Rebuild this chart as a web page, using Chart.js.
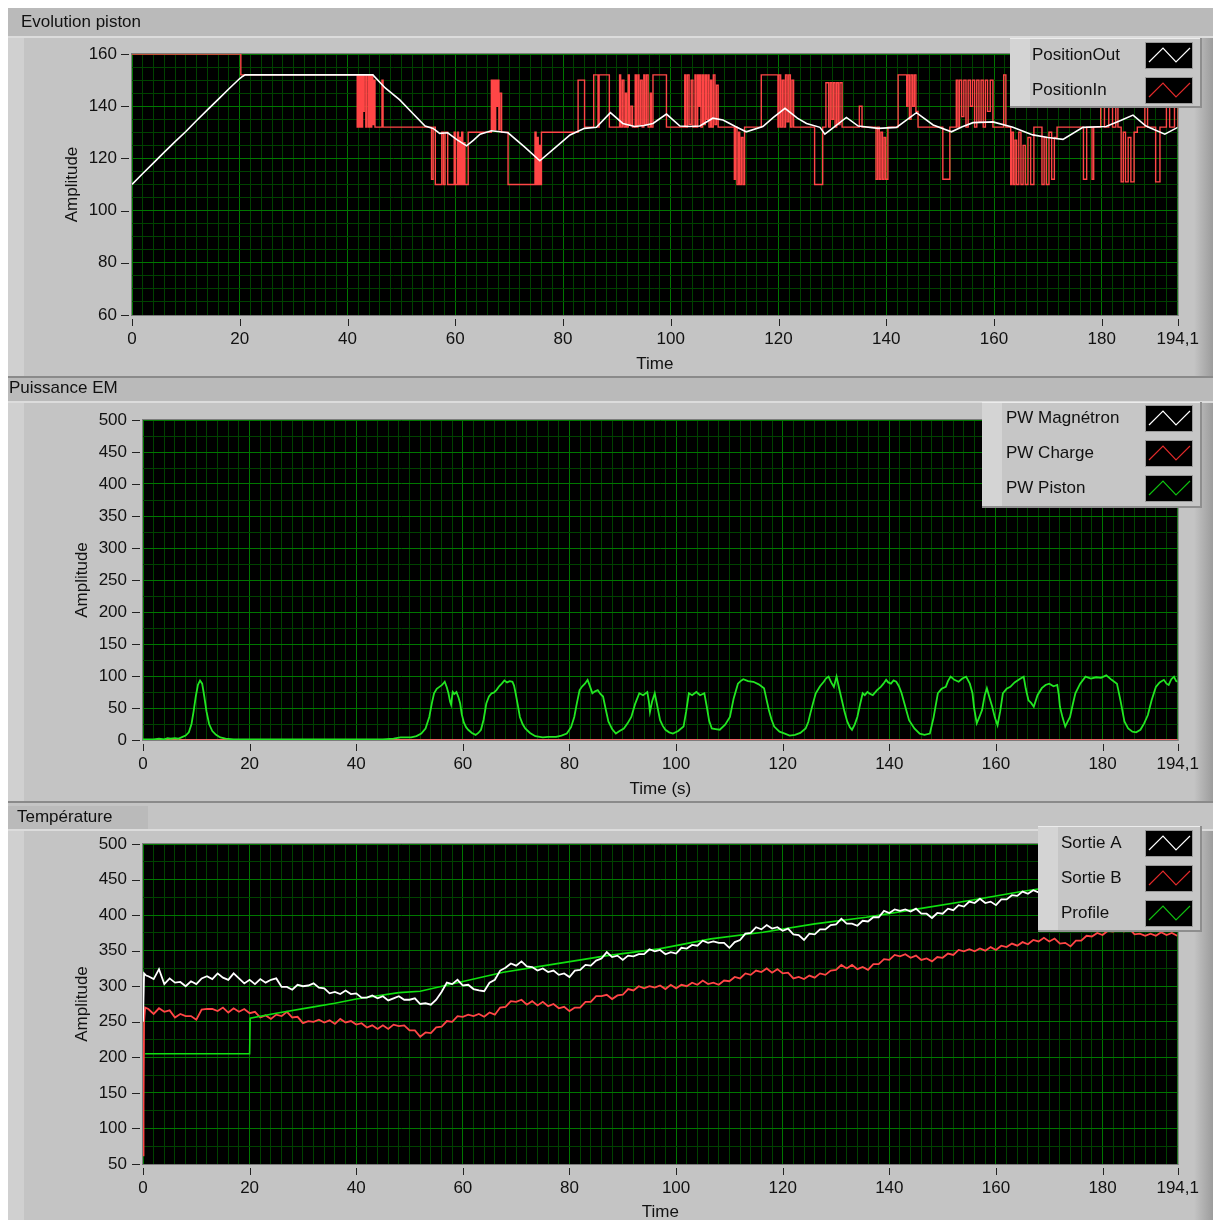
<!DOCTYPE html>
<html>
<head>
<meta charset="utf-8">
<title>Evolution piston - Puissance EM - Température</title>
<script src="https://cdn.jsdelivr.net/npm/chart.js@4.4.1/dist/chart.umd.min.js"></script>
<style>
  html, body { margin: 0; padding: 0; background: #fff; }
  body { width: 1213px; height: 1220px; position: relative; overflow: hidden; }
  canvas { position: absolute; left: 0; }
  #pistonChart { top: 0; width: 1213px; height: 378px; }
  #powerChart { top: 378px; width: 1213px; height: 425px; }
  #tempChart { top: 803px; width: 1213px; height: 417px; }
</style>
</head>
<body>
<canvas id="pistonChart" width="1213" height="378"></canvas>
<canvas id="powerChart" width="1213" height="425"></canvas>
<canvas id="tempChart" width="1213" height="417"></canvas>
<script>
// ---- data ----
const timeMax = 194.1;
const timeTicks = [0, 20, 40, 60, 80, 100, 120, 140, 160, 180, 194.1];
const pistonTicks = [60, 80, 100, 120, 140, 160];
const powerTicks = [0, 50, 100, 150, 200, 250, 300, 350, 400, 450, 500];
const tempTicks = [50, 100, 150, 200, 250, 300, 350, 400, 450, 500];

const pistonNames = ['PositionOut', 'PositionIn'];
const powerNames = ['PW Magnétron', 'PW Charge', 'PW Piston'];
const tempNames = ['Sortie A', 'Sortie B', 'Profile'];

// [time, position]
const positionOut = [
  [0, 110], [2, 114.2], [4, 118.3], [6, 122.4], [8, 126.4], [10, 130.3], [12, 134.5], [14, 138.6], [16, 142.6], [18, 146.7],
  [20, 150.6], [20.5, 151.4], [21, 152], [30, 152], [40, 152], [44.7, 152], [47, 147], [49.7, 142.4], [52, 137.5], [54.4, 132.4],
  [55.9, 131.5], [57.1, 129.6], [58.6, 129.8], [60.3, 127.2], [62.1, 124.8], [63.4, 127], [64.6, 129.3], [66.7, 130.6], [69.8, 129.8], [72.8, 124.5],
  [75.7, 119.1], [78.5, 124], [81.3, 129], [84, 131.5], [86.2, 131.9], [88.8, 137.5], [91.1, 133.4], [93.3, 132.2], [95, 132.6], [96.7, 133.4],
  [99.2, 137], [101.7, 132.4], [103.5, 132.2], [105.4, 132.4], [107.8, 135.4], [109.7, 134.7], [112, 132.2], [114, 130.2], [117.1, 132.2], [119, 135.6],
  [121.2, 139.2], [123.5, 135.4], [125.2, 133.4], [127.7, 131.9], [128.6, 129.3], [130.6, 132.5], [132.6, 135.7], [134.8, 132.4], [138.5, 131.5], [141.9, 131.9],
  [143.8, 134.8], [145.6, 137.5], [148.7, 132.8], [152.1, 130.2], [154, 132], [156.1, 133.7], [159.8, 134], [163.5, 131.9], [167.2, 129], [170, 128],
  [172.8, 127.3], [176.5, 131.9], [180.8, 132.2], [183.5, 134.5], [185.8, 136.6], [188.2, 132.4], [191.7, 129.3], [194.1, 131.9]
];

// [time, commanded position] - held until the next entry
const positionIn = [
  [0, 160], [20.2, 152],
  [41.8, 132], [42.0, 152], [42.2, 132], [42.4, 152], [42.6, 132], [42.8, 152], [43.0, 138], [43.1, 152], [43.4, 132], [43.6, 152], [43.9, 132], [44.1, 152], [44.3, 132], [44.5, 152], [44.7, 133], [44.9, 150], [45.1, 132], [46.4, 150], [46.6, 132],
  [55.6, 112], [55.9, 132], [56.3, 110], [57.5, 130], [57.8, 110], [58.1, 130], [58.6, 110], [59.8, 130], [60.0, 110], [60.4, 130], [60.6, 110], [60.8, 128], [61.0, 110], [61.2, 130], [61.4, 110], [61.6, 126], [61.8, 110], [62.4, 130],
  [66.7, 150], [66.9, 131], [67.1, 150], [67.3, 131], [67.5, 150], [67.7, 140], [67.9, 150], [68.1, 131], [68.3, 145], [68.6, 130],
  [69.8, 110], [74.8, 130], [75.0, 110], [75.2, 128], [75.4, 110], [75.6, 125], [75.8, 110], [76.0, 130],
  [82.8, 150], [84.0, 132], [85.7, 152], [86.5, 132], [86.7, 152], [88.6, 132],
  [90.5, 152], [90.7, 132], [91.0, 150], [91.3, 132], [91.6, 145], [91.8, 132], [92.1, 152], [92.3, 133], [92.6, 140], [92.9, 132], [93.4, 152], [93.6, 132], [93.9, 152], [94.1, 133], [94.4, 150], [94.7, 132], [95.0, 152], [95.2, 133], [95.5, 152], [95.8, 132], [96.2, 145], [96.4, 132],
  [96.7, 152], [99.2, 132],
  [102.6, 152], [102.8, 132], [103.1, 152], [103.4, 133], [103.8, 150], [104.1, 132], [104.5, 152], [104.7, 132], [105.0, 152], [105.2, 140], [105.4, 152], [105.6, 132], [105.9, 152], [106.1, 133], [106.4, 152], [106.6, 135], [106.9, 152], [107.1, 132], [107.4, 150], [107.6, 132], [107.9, 152], [108.2, 133], [108.5, 148], [108.8, 132],
  [111.8, 112], [112.0, 132], [112.3, 110], [112.6, 130], [112.8, 110], [113.1, 128], [113.4, 110], [113.7, 132],
  [116.8, 152], [119.9, 132], [120.1, 152], [120.4, 132], [120.7, 150], [121.0, 132], [121.3, 152], [121.6, 134], [121.9, 152], [122.2, 132], [122.5, 150], [122.8, 132],
  [126.7, 110], [128.2, 132], [128.8, 149], [129.3, 132], [129.6, 149], [129.9, 135], [130.2, 149], [130.5, 132], [130.8, 149], [131.1, 133], [131.4, 149], [131.8, 132],
  [135.0, 140], [135.5, 132],
  [138.1, 112], [138.4, 132], [138.7, 112], [139.0, 130], [139.3, 112], [139.6, 128], [139.9, 112], [140.3, 132],
  [142.2, 152], [143.8, 140], [144.0, 152], [144.3, 135], [144.6, 152], [144.9, 140], [145.2, 152], [145.5, 138], [145.9, 132],
  [150.5, 112], [151.8, 132],
  [153.0, 150], [153.3, 132], [153.6, 150], [154.0, 136], [154.4, 150], [154.8, 132], [155.2, 150], [155.6, 140], [156.0, 150], [156.4, 132], [156.8, 150], [157.2, 134], [157.6, 150], [158.0, 132], [158.4, 150], [158.8, 138], [159.3, 150], [159.8, 132],
  [161.8, 152], [162.2, 132],
  [163.1, 110], [163.3, 130], [163.6, 110], [163.9, 127], [164.2, 110], [164.6, 130], [165.0, 110], [165.4, 125], [165.8, 110], [166.3, 128], [166.8, 110], [167.4, 132],
  [168.9, 110], [169.3, 128], [169.7, 110], [170.2, 130], [170.7, 112], [171.2, 128], [171.7, 132],
  [176.6, 112], [177.2, 132], [178.2, 112], [178.5, 132],
  [179.8, 140], [180.5, 132], [181.3, 142], [182.0, 132], [182.6, 145], [183.0, 132],
  [183.6, 111], [184.0, 130], [184.4, 111], [184.9, 128], [185.4, 111], [186.0, 130], [186.6, 132],
  [188.0, 140], [188.5, 132], [190.0, 111], [190.8, 132], [192.0, 140], [192.6, 132], [193.5, 145], [194.1, 132]
];

// [time, W]
const pwMagnetron = [[0, 0], [194.1, 0]];
const pwCharge = [[0, 0], [194.1, 0]];
const pwPiston = [
  [0, 1], [2, 1], [3, 2], [4, 1], [4.6, 3], [5.2, 2], [6, 3], [6.6, 2], [7.2, 4], [8, 7], [8.6, 12], [9.1, 25], [9.5, 45], [9.9, 68], [10.3, 86], [10.7, 93], [11.1, 88], [11.5, 68], [11.9, 45], [12.4, 25], [13, 14], [13.7, 8], [14.5, 4], [15.5, 2], [17, 1], [25, 1], [35, 1], [45, 1], [47, 2],
  [48.3, 4], [50.3, 4], [51.3, 6], [52.2, 10], [53, 18], [53.7, 36], [54.2, 58], [54.6, 73], [55.1, 80], [55.6, 83], [56.1, 86], [56.6, 91], [57, 82], [57.3, 73], [57.6, 60], [57.8, 55], [58.1, 75], [58.4, 72], [58.8, 75], [59.2, 66], [59.5, 57], [59.8, 40], [60.2, 27], [60.6, 20], [61, 16], [61.7, 11], [62.4, 8],
  [62.9, 11], [63.4, 16], [63.9, 32], [64.4, 57], [64.9, 68], [65.4, 73], [65.8, 74], [66.3, 78], [66.8, 84], [67.3, 88], [67.8, 93], [68.3, 90], [68.8, 92], [69.3, 91], [69.6, 85], [69.9, 73], [70.3, 55], [70.7, 36], [71.2, 25], [71.7, 18], [72.6, 11], [73.6, 6], [75, 4], [76, 5], [77.5, 5],
  [78.5, 7], [79.5, 10], [80.3, 20], [80.9, 36], [81.4, 58], [81.9, 78], [82.4, 84], [82.9, 88], [83.4, 94], [83.8, 85], [84.3, 73], [84.8, 76], [85.3, 78], [85.8, 72], [86.3, 68], [86.8, 48], [87.3, 29], [88, 17], [88.7, 10],
  [89.4, 14], [90.2, 18], [90.9, 26], [91.6, 36], [92.3, 56], [93.1, 73], [93.8, 70], [94.6, 75], [94.9, 60], [95.1, 44], [95.5, 60], [96, 73], [96.5, 52], [97, 31], [97.5, 22], [98, 16], [98.7, 12], [99.4, 10],
  [100.4, 14], [101.4, 21], [101.9, 45], [102.4, 73], [103, 70], [103.8, 75], [104.5, 70], [105.3, 73], [105.8, 50], [106.2, 30], [106.7, 18], [107.4, 17], [108.2, 16],
  [109.2, 24], [110.1, 36], [110.8, 65], [111.6, 88], [112.1, 92], [112.6, 95], [113.5, 92], [114.5, 91], [115.5, 87], [116.5, 81], [117, 62], [117.4, 47], [117.9, 32], [118.4, 21], [119.4, 13], [120.4, 10], [121.3, 7], [122.3, 8],
  [123.3, 11], [124.3, 18], [124.8, 28], [125.2, 42], [125.7, 58], [126.2, 73], [127, 84], [127.7, 91], [128.1, 96], [128.6, 99], [129.1, 90], [129.6, 83], [130.1, 99], [130.6, 80], [131.1, 62], [131.6, 44], [132.1, 29], [132.6, 20], [133, 16],
  [133.5, 24], [134, 36], [134.5, 55], [135, 73], [135.4, 70], [135.9, 75], [136.4, 72], [136.9, 70], [137.7, 78], [138.4, 83], [138.9, 88], [139.4, 94], [139.8, 90], [140.3, 88], [140.8, 93], [141.3, 91], [141.8, 84], [142.3, 73], [143, 52], [143.7, 31], [144.7, 18], [145.7, 10], [146.6, 8], [147.6, 10],
  [148.3, 35], [149.1, 73], [149.8, 80], [150.6, 83], [151, 92], [151.5, 99], [152.2, 94], [153, 91], [153.7, 96], [154.4, 99], [155.1, 88], [155.6, 73], [155.9, 50], [156.4, 26], [156.9, 36], [157.4, 47], [157.9, 70], [158.3, 81], [158.8, 66], [159.3, 52], [159.8, 35], [160.3, 23],
  [160.8, 45], [161.3, 73], [162, 80], [162.7, 83], [163.5, 90], [164.4, 95], [165.2, 99], [165.6, 80], [166.1, 62], [166.6, 58], [167.1, 52], [167.8, 70], [168.6, 81], [169.3, 86], [170, 88], [170.8, 84], [171.5, 86], [171.8, 70], [172, 52], [172.5, 35], [173, 21],
  [173.4, 28], [173.9, 36], [174.4, 55], [174.9, 73], [175.8, 88], [176.8, 99], [177.8, 96], [178.8, 98], [179.7, 97], [180.7, 101], [181.7, 94], [182.7, 88], [183.4, 60], [184.1, 29], [184.8, 18], [185.6, 13], [186.3, 12], [187.1, 16], [187.8, 26],
  [188.5, 39], [189.2, 62], [190, 83], [190.7, 90], [191.5, 94], [192, 88], [192.4, 86], [192.9, 95], [193.4, 99], [193.8, 92], [194.1, 91]
];

// temperatures: start transient [time, °C], then one reading per second from t = 1 s
const sortieAStart = [[0, 250], [0.2, 318], [0.6, 315]];
const sortieA = [
  314, 310, 324, 303, 311, 305, 306, 300, 307, 303,
  311, 314, 310, 318, 312, 309, 318, 311, 304, 309,
  303, 310, 305, 309, 311, 299, 299, 295, 302, 300,
  301, 304, 298, 297, 290, 292, 289, 294, 289, 290,
  284, 284, 287, 283, 286, 280, 283, 286, 281, 281,
  283, 275, 276, 274, 281, 292, 305, 303, 309, 301,
  302, 296, 294, 293, 305, 309, 322, 326, 332, 329,
  335, 328, 327, 322, 325, 320, 322, 316, 318, 313,
  322, 323, 330, 329, 336, 339, 348, 341, 343, 337,
  343, 342, 345, 345, 352, 349, 351, 345, 348, 346,
  354, 353, 358, 357, 364, 361, 363, 361, 361, 354,
  362, 365, 374, 375, 383, 380, 386, 381, 383, 378,
  381, 373, 372, 365, 374, 373, 380, 380, 386, 387,
  395, 388, 388, 385, 392, 391, 397, 397, 406, 403,
  408, 406, 408, 405, 409, 402, 402, 396, 403, 402,
  409, 407, 414, 412, 419, 417, 423, 417, 419, 414,
  422, 422, 428, 427, 433, 430, 435, 432, 438, 434,
  439, 436, 441, 438, 442, 439, 444, 440, 445, 441,
  446, 442, 447, 444, 448, 445, 449, 446, 450, 447,
  451, 448, 452, 450
];
const sortieBStart = [[0, 62], [0.1, 130], [0.2, 250], [0.4, 270]];
const sortieB = [
  268, 261, 269, 264, 266, 256, 261, 258, 258, 253,
  267, 268, 268, 265, 270, 263, 269, 264, 268, 262,
  264, 256, 259, 254, 260, 258, 264, 256, 257, 248,
  251, 250, 253, 249, 252, 247, 254, 249, 251, 246,
  248, 242, 245, 240, 245, 240, 246, 244, 245, 238,
  238, 229, 235, 234, 242, 243, 251, 250, 258, 257,
  260, 258, 261, 257, 263, 260, 270, 271, 279, 278,
  281, 274, 279, 273, 278, 272, 275, 269, 271, 265,
  270, 270, 278, 278, 286, 286, 288, 282, 287, 288,
  296, 294, 300, 297, 300, 298, 301, 296, 302, 297,
  302, 300, 305, 302, 308, 303, 305, 302, 308, 307,
  313, 311, 318, 316, 322, 320, 325, 319, 324, 318,
  319, 311, 313, 310, 315, 312, 318, 316, 322, 323,
  330, 325, 330, 324, 327, 323, 331, 331, 338, 337,
  344, 342, 345, 340, 343, 337, 339, 335, 341, 340,
  346, 344, 351, 349, 352, 349, 353, 350, 355, 351,
  357, 355, 360, 357, 362, 359, 365, 363, 368, 363,
  367, 360, 361, 356, 364, 364, 371, 370, 375, 372,
  378, 377, 380, 377, 381, 373, 374, 371, 374, 371,
  376, 372, 375, 371
];
const profile = [
  [0.4, 205], [20, 205], [20.1, 255], [25, 262], [32, 271], [36, 276], [40, 282], [48, 291], [52, 293],
  [67.6, 319.6], [77.4, 331.4], [87.1, 343], [96.8, 352.5], [106.5, 366.6], [116.3, 376], [126, 387.7],
  [135.7, 397], [145.4, 408.8], [155.1, 420.5], [164.8, 433.2], [194.1, 466]
];

// ---- helpers ----
const FONT = { family: '"Liberation Sans", Arial, sans-serif', size: 17 };
const FONT_CSS = '17px "Liberation Sans", Arial, sans-serif';
const GRID_MAJOR = 'rgb(0,118,0)';
const GRID_MINOR = 'rgb(0,66,0)';
const WHITE = '#ffffff';
const RED = '#ff4646';
const GREEN = '#22e622';

function toPoints(pairs) {
  return pairs.map(p => ({ x: p[0], y: p[1] }));
}

function perSecond(start, values) {
  return toPoints(start).concat(values.map((v, i) => ({ x: i + 1, y: v })));
}

function gridValues(min, max, step, last) {
  const out = [];
  for (let v = min; v <= max + 1e-9; v += step) out.push(Math.round(v * 10) / 10);
  if (last !== undefined) out.push(last);
  return out;
}

const timeGrid = gridValues(0, 192, 2, timeMax);

// panel chrome: title bar, black plot area, tick dashes, axis titles, legend box
const labviewFrame = {
  id: 'labviewFrame',
  beforeDraw(chart, args, o) {
    const { ctx, width, height, chartArea: a } = chart;
    ctx.save();
    ctx.fillStyle = '#ffffff';
    ctx.fillRect(0, 0, width, height);
    ctx.fillStyle = '#c4c4c4';
    ctx.fillRect(8, o.top, width - 8, height - o.top);
    ctx.fillStyle = '#d0d0d0';
    ctx.fillRect(8, o.barBottom, 16, height - o.barBottom);
    const g = ctx.createLinearGradient(1194, 0, 1213, 0);
    g.addColorStop(0, '#c4c4c4');
    g.addColorStop(1, '#9c9c9c');
    ctx.fillStyle = g;
    ctx.fillRect(1194, o.barBottom, 19, height - o.barBottom);

    ctx.fillStyle = '#bababa';
    ctx.fillRect(o.barLeft, o.barTop, o.barRight - o.barLeft, o.barBottom - o.barTop);
    ctx.fillStyle = '#dcdcdc';
    ctx.fillRect(8, o.barBottom, width - 8, 2);
    ctx.fillStyle = '#111';
    ctx.font = FONT_CSS;
    ctx.textAlign = 'left';
    ctx.textBaseline = 'middle';
    ctx.fillText(o.title, o.titleX, o.titleY);

    ctx.fillStyle = '#000';
    ctx.fillRect(a.left, a.top, a.right - a.left, a.bottom - a.top);
    ctx.restore();
  },
  afterDraw(chart, args, o) {
    const { ctx, chartArea: a, scales } = chart;
    ctx.save();
    ctx.lineWidth = 1;
    ctx.strokeStyle = '#7c7c7c';
    ctx.strokeRect(a.left - 0.5, a.top - 0.5, a.right - a.left + 1, a.bottom - a.top + 1);

    ctx.strokeStyle = '#222';
    ctx.beginPath();
    o.yMajor.forEach(v => {
      const y = Math.round(scales.y.getPixelForValue(v)) + 0.5;
      ctx.moveTo(a.left - 11, y);
      ctx.lineTo(a.left - 3, y);
    });
    o.xMajor.forEach(v => {
      const x = Math.round(scales.x.getPixelForValue(v)) + 0.5;
      ctx.moveTo(x, a.bottom + 4);
      ctx.lineTo(x, a.bottom + 11);
    });
    ctx.stroke();

    ctx.fillStyle = '#111';
    ctx.font = FONT_CSS;
    ctx.textAlign = 'center';
    ctx.textBaseline = 'middle';
    ctx.fillText(o.xTitle, (a.left + a.right) / 2, o.xTitleY);
    ctx.save();
    ctx.translate(o.yTitleX, (a.top + a.bottom) / 2);
    ctx.rotate(-Math.PI / 2);
    ctx.fillText('Amplitude', 0, 0);
    ctx.restore();

    if (o.bottomLine) {
      ctx.fillStyle = '#8a8a8a';
      ctx.fillRect(8, o.bottomLine, chart.width - 8, 2);
    }

    // legend box
    const L = o.legend;
    ctx.fillStyle = '#c6c6c6';
    ctx.fillRect(L.x, L.y, L.w, L.h);
    ctx.fillStyle = '#d4d4d4';
    ctx.fillRect(L.x, L.y, 20, L.h);
    ctx.fillStyle = '#ececec';
    ctx.fillRect(L.x, L.y, L.w, 1);
    ctx.fillStyle = '#8e8e8e';
    ctx.fillRect(L.x, L.y + L.h, L.w + 2, 2);
    ctx.fillRect(L.x + L.w, L.y, 2, L.h + 2);
    L.names.forEach((name, i) => {
      const cy = L.firstY + i * 35;
      ctx.fillStyle = '#111';
      ctx.textAlign = 'left';
      ctx.fillText(name, L.textX, cy);
      const sx = 1146, sy = cy - 12;
      ctx.fillStyle = '#000';
      ctx.fillRect(sx, sy, 46, 25);
      ctx.strokeStyle = '#9a9a9a';
      ctx.lineWidth = 1;
      ctx.strokeRect(sx - 0.5, sy - 0.5, 47, 26);
      ctx.strokeStyle = L.colors[i];
      ctx.lineWidth = 1.2;
      ctx.beginPath();
      ctx.moveTo(sx + 3, sy + 19);
      ctx.lineTo(sx + 17, sy + 5);
      ctx.lineTo(sx + 30, sy + 19);
      ctx.lineTo(sx + 44, sy + 5);
      ctx.stroke();
    });
    ctx.restore();
  }
};

function panelChart(id, cfg) {
  const yGrid = gridValues(cfg.yMin, cfg.yMax, cfg.yMinor);
  return new Chart(document.getElementById(id), {
    type: 'line',
    data: { datasets: cfg.datasets },
    options: {
      responsive: false,
      animation: false,
      devicePixelRatio: 1,
      events: [],
      layout: { padding: { top: cfg.plotTop, right: 35, left: 0, bottom: 0 } },
      elements: { point: { radius: 0 }, line: { tension: 0, borderWidth: 1.5 } },
      plugins: {
        legend: { display: false },
        tooltip: { enabled: false },
        labviewFrame: cfg.frame
      },
      scales: {
        x: {
          type: 'linear',
          min: 0,
          max: timeMax,
          afterBuildTicks: s => { s.ticks = timeGrid.map(v => ({ value: v })); },
          afterFit: s => { s.height = cfg.xAxisHeight; },
          border: { display: false },
          grid: {
            drawTicks: false,
            color: c => timeTicks.includes(c.tick.value) ? GRID_MAJOR : GRID_MINOR
          },
          ticks: {
            autoSkip: false,
            maxRotation: 0,
            padding: 14,
            color: '#111',
            font: FONT,
            callback: v => timeTicks.includes(v) ? String(v).replace('.', ',') : ''
          }
        },
        y: {
          min: cfg.yMin,
          max: cfg.yMax,
          afterBuildTicks: s => { s.ticks = yGrid.map(v => ({ value: v })); },
          afterFit: s => { s.width = cfg.plotLeft; },
          border: { display: false },
          grid: {
            drawTicks: false,
            color: c => cfg.yTicks.includes(c.tick.value) ? GRID_MAJOR : GRID_MINOR
          },
          ticks: {
            autoSkip: false,
            padding: cfg.yPad,
            color: '#111',
            font: FONT,
            callback: v => cfg.yTicks.includes(v) ? String(v) : ''
          }
        }
      }
    },
    plugins: [labviewFrame]
  });
}

// ---- Evolution piston ----
panelChart('pistonChart', {
  plotTop: 54, plotLeft: 132, xAxisHeight: 63, yPad: 15,
  yMin: 60, yMax: 160, yMinor: 5, yTicks: pistonTicks,
  datasets: [
    { label: pistonNames[0], data: toPoints(positionOut), borderColor: WHITE, borderWidth: 1.6 },
    { label: pistonNames[1], data: toPoints(positionIn), borderColor: RED, borderWidth: 1.4, stepped: true }
  ],
  frame: {
    title: 'Evolution piston', titleX: 21, titleY: 22,
    top: 8, barTop: 8, barBottom: 36, barLeft: 8, barRight: 1213, bottomLine: 376,
    yTitleX: 72, xTitle: 'Time', xTitleY: 364,
    yMajor: pistonTicks, xMajor: timeTicks,
    legend: { x: 1010, y: 38, w: 190, h: 68, textX: 1032, firstY: 55, names: pistonNames, colors: [WHITE, '#e02a2a'] }
  }
});

// ---- Puissance EM ----
panelChart('powerChart', {
  plotTop: 42, plotLeft: 143, xAxisHeight: 63, yPad: 16,
  yMin: 0, yMax: 500, yMinor: 25, yTicks: powerTicks,
  datasets: [
    { label: powerNames[2], data: toPoints(pwPiston), borderColor: GREEN, borderWidth: 1.8 },
    { label: powerNames[1], data: toPoints(pwCharge), borderColor: RED, borderWidth: 1.5 },
    { label: powerNames[0], data: toPoints(pwMagnetron), borderColor: WHITE, borderWidth: 1.5 }
  ],
  frame: {
    title: 'Puissance EM', titleX: 9, titleY: 10,
    top: 0, barTop: 0, barBottom: 23, barLeft: 8, barRight: 1213, bottomLine: 423,
    yTitleX: 82, xTitle: 'Time (s)', xTitleY: 411,
    yMajor: powerTicks, xMajor: timeTicks,
    legend: { x: 982, y: 24, w: 218, h: 104, textX: 1006, firstY: 40, names: powerNames, colors: [WHITE, '#e02a2a', '#10c010'] }
  }
});

// ---- Température ----
panelChart('tempChart', {
  plotTop: 41, plotLeft: 143, xAxisHeight: 56, yPad: 16,
  yMin: 50, yMax: 500, yMinor: 25, yTicks: tempTicks,
  datasets: [
    { label: tempNames[0], data: perSecond(sortieAStart, sortieA), borderColor: WHITE, borderWidth: 1.8 },
    { label: tempNames[2], data: toPoints(profile), borderColor: '#10e010', borderWidth: 1.6 },
    { label: tempNames[1], data: perSecond(sortieBStart, sortieB), borderColor: RED, borderWidth: 1.8 }
  ],
  frame: {
    title: 'Température', titleX: 17, titleY: 14,
    top: 0, barTop: 3, barBottom: 26, barLeft: 8, barRight: 148, bottomLine: null,
    yTitleX: 82, xTitle: 'Time', xTitleY: 409,
    yMajor: tempTicks, xMajor: timeTicks,
    legend: { x: 1038, y: 23, w: 162, h: 104, textX: 1061, firstY: 40, names: tempNames, colors: [WHITE, '#e02a2a', '#10c010'] }
  }
});
</script>
</body>
</html>
